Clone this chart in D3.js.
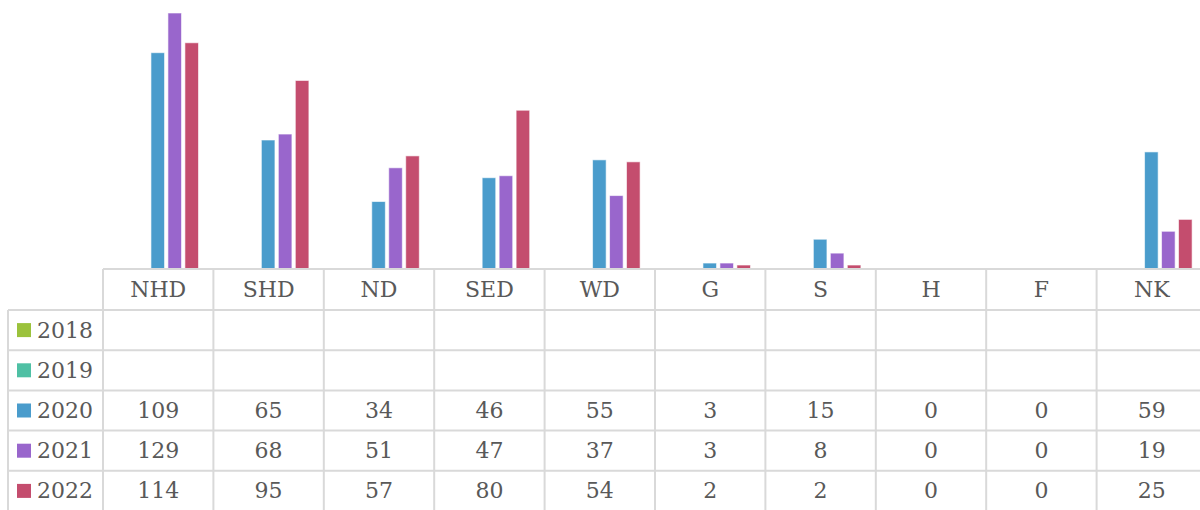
<!DOCTYPE html>
<html>
<head>
<meta charset="utf-8">
<script src="https://cdn.jsdelivr.net/npm/d3@7"></script>
<style>
  body { margin: 0; background: #fff; }
  text { font-family: "DejaVu Serif", serif; fill: #595959; }
</style>
</head>
<body>
<div id="chart"></div>
<script>
const categories = ['NHD', 'SHD', 'ND', 'SED', 'WD', 'G', 'S', 'H', 'F', 'NK']
const years = ['2018', '2019', '2020', '2021', '2022']
const colors = ['#9bc23c', '#4fc0a4', '#4a9ccc', '#9966cc', '#c44d6e']
const values2018 = [null, null, null, null, null, null, null, null, null, null]
const values2019 = [null, null, null, null, null, null, null, null, null, null]
const values2020 = [109, 65, 34, 46, 55, 3, 15, 0, 0, 59]
const values2021 = [129, 68, 51, 47, 37, 3, 8, 0, 0, 19]
const values2022 = [114, 95, 57, 80, 54, 2, 2, 0, 0, 25]

const series = [values2018, values2019, values2020, values2021, values2022]

function draw(){
    const dims = {
        width: 1200,
        height: 510,
        tableLeft: 103,
        legendLeft: 8,
        colWidth: 110.4,
        baseY: 269,
        headerBottom: 310,
        rowHeight: 40.2,
        fontSize: 22
    }

    const svg = d3.select('#chart')
        .append('svg')
        .attr('width', dims.width)
        .attr('height', dims.height)

    // Scales
    const xScale = d3.scaleBand()
        .domain(categories)
        .range([dims.tableLeft, dims.tableLeft + dims.colWidth * categories.length])

    const innerScale = d3.scaleBand()
        .domain(years)
        .range([14, 95.5])
        .paddingInner(0.2)

    const yScale = d3.scaleLinear()
        .domain([0, 129])
        .range([dims.baseY, 13])

    // Bars
    const bars = []
    series.forEach((vals, si) => {
        vals.forEach((v, ci) => {
            if (v != null && v > 0) bars.push({cat: categories[ci], year: years[si], value: v, color: colors[si]})
        })
    })

    svg.append('g')
        .selectAll('rect')
        .data(bars)
        .join('rect')
        .attr('x', d => xScale(d.cat) + innerScale(d.year))
        .attr('y', d => yScale(d.value))
        .attr('width', innerScale.bandwidth())
        .attr('height', d => dims.baseY - yScale(d.value))
        .attr('fill', d => d.color)
        .attr('stroke', '#fff')
        .attr('stroke-opacity', 0.6)
        .attr('stroke-width', 1)

    // Table
    const rowY = i => dims.headerBottom + i * dims.rowHeight
    const tableRight = dims.tableLeft + dims.colWidth * categories.length
    const grid = svg.append('g')
        .attr('stroke', '#d9d9d9')
        .attr('stroke-width', 2)

    grid.append('line')
        .attr('x1', dims.tableLeft).attr('x2', tableRight)
        .attr('y1', dims.baseY).attr('y2', dims.baseY)

    d3.range(years.length + 1).forEach(i => {
        grid.append('line')
            .attr('x1', dims.legendLeft).attr('x2', tableRight)
            .attr('y1', rowY(i)).attr('y2', rowY(i))
    })

    grid.append('line')
        .attr('x1', dims.legendLeft).attr('x2', dims.legendLeft)
        .attr('y1', rowY(0)).attr('y2', rowY(years.length))

    categories.forEach(c => {
        grid.append('line')
            .attr('x1', xScale(c)).attr('x2', xScale(c))
            .attr('y1', dims.baseY).attr('y2', rowY(years.length))
    })

    // Header labels
    svg.append('g')
        .selectAll('text')
        .data(categories)
        .join('text')
        .attr('x', d => xScale(d) + xScale.bandwidth() / 2)
        .attr('y', (dims.baseY + dims.headerBottom) / 2)
        .attr('text-anchor', 'middle')
        .attr('dominant-baseline', 'central')
        .attr('font-size', dims.fontSize)
        .text(d => d)

    // Legend keys + row labels
    const legend = svg.append('g')
    years.forEach((y, i) => {
        const cy = rowY(i) + dims.rowHeight / 2
        legend.append('rect')
            .attr('x', 17).attr('y', cy - 7)
            .attr('width', 14).attr('height', 14)
            .attr('fill', colors[i])
        legend.append('text')
            .attr('x', 37).attr('y', cy)
            .attr('dominant-baseline', 'central')
            .attr('font-size', dims.fontSize)
            .text(y)
    })

    // Cell values
    const cells = []
    series.forEach((vals, si) => {
        vals.forEach((v, ci) => {
            if (v != null) cells.push({row: si, cat: categories[ci], value: v})
        })
    })
    svg.append('g')
        .selectAll('text')
        .data(cells)
        .join('text')
        .attr('x', d => xScale(d.cat) + xScale.bandwidth() / 2)
        .attr('y', d => rowY(d.row) + dims.rowHeight / 2)
        .attr('text-anchor', 'middle')
        .attr('dominant-baseline', 'central')
        .attr('font-size', dims.fontSize)
        .text(d => d.value)
}
draw()
</script>
</body>
</html>
